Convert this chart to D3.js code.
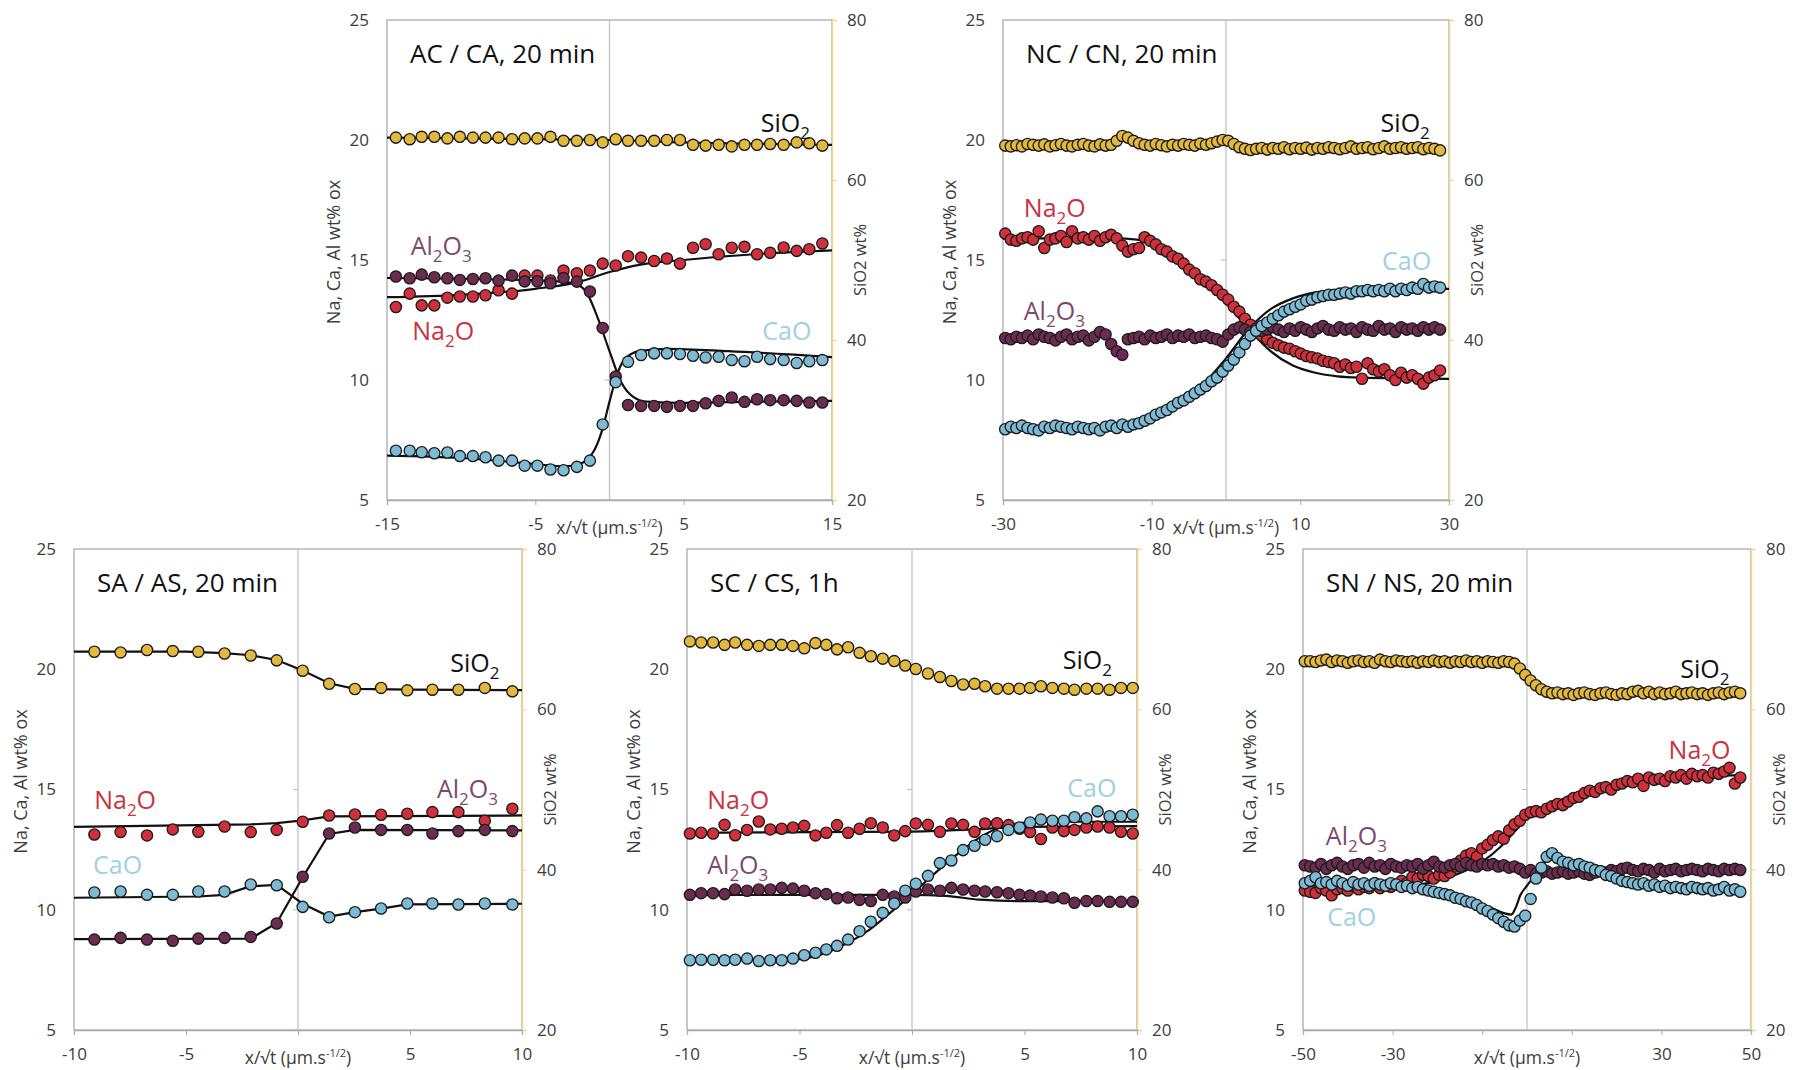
<!DOCTYPE html>
<html><head><meta charset="utf-8">
<script src="https://cdn.jsdelivr.net/npm/d3@7"></script>
<style>
body{margin:0;background:#fff;}
text{font-family:"Open Sans","DejaVu Sans",sans-serif;}
</style></head>
<body><svg id="chart" width="1800" height="1070"></svg>
<script>
// ---------------- DATA ----------------
const yTicks = [5,10,15,20,25];
const y2Ticks = [20,40,60,80];

// Panel 1: AC / CA, 20 min
const p1_xTicks = [-15,-5,5,15];
const p1_xLabels = [-15,-5,5,15];
const p1_x = [-14.4,-13.47,-12.66,-11.81,-10.93,-10.09,-9.21,-8.36,-7.48,-6.57,-5.72,-4.86,-3.98,-3.1,-2.2,-1.32,-0.46,0.42,1.25,2.13,3.01,3.87,4.75,5.63,6.48,7.36,8.24,9.1,9.95,10.83,11.74,12.62,13.47,14.35];
const p1_SiO2 = [65.3,65.1,65.4,65.4,65.2,65.4,65.3,65.3,65.3,65.1,65.2,65.2,65.4,64.9,64.9,65.0,64.7,65.1,64.9,64.9,64.9,65.0,65.0,64.4,64.3,64.4,64.2,64.4,64.4,64.5,64.4,64.7,64.6,64.3];
const p1_Na2O = [13.04,13.60,13.11,13.11,13.43,13.48,13.48,13.53,13.74,13.60,14.35,14.35,14.15,14.56,14.45,14.56,14.85,14.77,15.16,15.10,14.96,15.06,14.85,15.51,15.66,15.24,15.51,15.55,15.24,15.30,15.52,15.38,15.45,15.69];
const p1_Al2O3 = [14.31,14.24,14.39,14.28,14.24,14.17,14.21,14.24,14.14,14.35,14.11,14.11,14.03,14.25,14.10,13.69,12.17,10.15,8.96,8.92,8.92,8.88,8.92,8.92,9.03,9.13,9.27,9.09,9.20,9.16,9.16,9.13,9.06,9.06];
const p1_CaO = [7.05,7.05,6.99,6.95,6.98,6.83,6.83,6.78,6.64,6.64,6.43,6.43,6.27,6.24,6.38,6.64,8.15,9.91,10.76,11.04,11.11,11.11,11.08,11.01,10.94,10.97,10.83,10.78,10.97,10.87,10.83,10.71,10.78,10.83];
const p1_fitSiO2 = [[-15,65.3],[-5,65.1],[0,65.0],[5,64.7],[15,64.4]];
const p1_fitNa2O = [[-15,13.45],[-10,13.55],[-5,13.8],[-2,14.1],[0,14.5],[2,14.8],[5,15.0],[10,15.25],[15,15.4]];
const p1_fitAl2O3 = [[-15,14.25],[-5,14.15],[-2.5,14.05],[-1.6,13.7],[-0.8,12.6],[0,11.2],[0.8,9.9],[1.6,9.3],[2.5,9.1],[5,9.05],[10,9.1],[15,9.13]];
const p1_fitCaO = [[-15,6.85],[-10,6.75],[-5,6.5],[-3,6.4],[-2,6.5],[-1,7.1],[-0.5,7.9],[0,9.1],[0.5,10.2],[1,10.85],[2,11.2],[4,11.3],[8,11.2],[15,10.95]];

// Panel 2: NC / CN, 20 min
const p2_xTicks = [-30,-10,10,30];
const p2_xLabels = [-30,-10,10,30];
const p2_x = [-29.7,-28.95,-28.2,-27.45,-26.7,-25.95,-25.2,-24.45,-23.7,-22.95,-22.2,-21.45,-20.7,-19.95,-19.2,-18.45,-17.7,-16.95,-16.2,-15.45,-14.7,-13.95,-13.2,-12.45,-11.7,-10.95,-10.2,-9.45,-8.7,-7.95,-7.2,-6.45,-5.7,-4.95,-4.2,-3.45,-2.7,-1.95,-1.2,-0.45,0.3,1.05,1.8,2.55,3.3,4.05,4.8,5.55,6.3,7.05,7.8,8.55,9.3,10.05,10.8,11.55,12.3,13.05,13.8,14.55,15.3,16.05,16.8,17.55,18.3,19.05,19.8,20.55,21.3,22.05,22.8,23.55,24.3,25.05,25.8,26.55,27.3,28.05,28.8];
const p2_SiO2 = [64.3,64.2,64.35,64.2,64.5,64.4,64.3,64.45,64.2,64.35,64.5,64.3,64.2,64.4,64.5,64.3,64.2,64.45,64.3,64.4,64.9,65.5,65.3,64.9,64.6,64.4,64.3,64.5,64.35,64.2,64.4,64.3,64.5,64.4,64.3,64.55,64.4,64.6,64.8,65.0,64.9,64.5,64.1,63.9,63.75,63.9,64.0,63.8,64.0,63.9,64.1,63.85,64.0,63.9,64.05,63.8,64.0,63.9,64.1,64.0,63.85,64.0,64.2,63.9,64.0,64.1,63.85,64.0,64.2,63.9,64.0,64.1,63.9,64.0,64.1,63.85,64.0,63.9,63.7];
const p2_Na2O = [16.1,15.85,15.8,15.9,15.95,15.85,16.2,15.5,15.85,15.9,16.0,15.75,16.2,15.9,15.95,15.85,16.0,15.8,15.95,16.05,15.9,15.6,15.35,15.45,15.5,15.95,15.8,15.65,15.45,15.35,15.15,15.05,14.85,14.6,14.45,14.2,14.1,13.95,13.75,13.55,13.35,13.05,12.85,12.55,12.3,12.0,11.85,11.7,11.55,11.45,11.35,11.3,11.2,11.1,11.0,10.95,10.9,10.8,10.75,10.7,10.55,10.65,10.5,10.55,10.05,10.7,10.45,10.35,10.45,10.2,10.0,10.3,10.1,10.2,10.05,9.85,10.1,10.2,10.4];
const p2_Al2O3 = [11.75,11.7,11.8,11.75,11.85,11.7,11.9,11.8,11.75,11.65,11.8,11.9,11.7,11.8,11.85,11.65,11.8,12.0,11.9,11.5,11.2,11.05,11.7,11.75,11.8,11.7,11.85,11.75,11.8,11.9,11.75,11.85,11.8,11.9,11.75,11.8,11.85,11.75,11.7,11.6,11.9,12.1,12.2,12.1,12.0,12.15,12.05,12.1,12.2,12.1,12.0,12.15,12.05,12.2,12.1,12.0,12.15,12.25,12.1,12.05,12.2,12.1,12.15,12.0,12.2,12.1,12.05,12.25,12.1,12.15,12.0,12.2,12.1,12.15,12.05,12.2,12.1,12.2,12.1];
const p2_CaO = [7.95,8.05,8.0,8.1,8.0,7.95,7.9,8.05,8.0,8.1,8.05,8.0,7.95,8.05,8.0,7.95,8.0,7.9,8.05,8.1,8.0,8.15,8.05,8.15,8.2,8.3,8.4,8.55,8.65,8.75,8.9,9.05,9.15,9.3,9.45,9.6,9.75,9.95,10.1,10.35,10.6,10.85,11.15,11.5,11.85,12.05,12.25,12.4,12.55,12.7,12.85,12.95,13.05,13.15,13.3,13.35,13.45,13.5,13.55,13.55,13.6,13.65,13.6,13.7,13.7,13.75,13.7,13.75,13.7,13.8,13.7,13.8,13.75,13.85,13.8,14.0,13.85,13.9,13.85];
const p2_fitNa2O = [[-30,15.9],[-15,15.9],[-12,15.85],[-9,15.55],[-6,14.95],[-3,14.15],[0,13.2],[3,12.15],[6,11.2],[9,10.6],[12,10.3],[15,10.15],[18,10.1],[30,10.05]];
const p2_fitCaO = [[-30,8.0],[-15,8.05],[-10,8.35],[-6,9.0],[-3,9.85],[0,10.9],[3,12.1],[6,12.95],[9,13.4],[12,13.65],[15,13.75],[18,13.8],[30,13.8]];

// Panel 3: SA / AS, 20 min
const p3_xTicks = [-10,-5,0,5,10];
const p3_xLabels = [-10,-5,5,10];
const p3_x = [-9.09,-7.92,-6.74,-5.59,-4.45,-3.28,-2.11,-0.95,0.21,1.39,2.54,3.71,4.88,6.0,7.16,8.34,9.57];
const p3_SiO2 = [67.18,67.10,67.40,67.27,67.18,66.97,66.71,66.11,64.82,63.18,62.54,62.67,62.37,62.45,62.45,62.67,62.24];
const p3_Na2O = [13.13,13.23,13.09,13.34,13.24,13.46,13.23,13.32,13.66,13.92,13.96,13.95,13.99,14.06,14.06,13.70,14.20];
const p3_Al2O3 = [8.76,8.83,8.76,8.71,8.80,8.83,8.87,9.43,11.37,13.17,13.42,13.32,13.32,13.17,13.27,13.32,13.27];
const p3_CaO = [10.72,10.76,10.62,10.62,10.76,10.76,11.05,11.02,10.12,9.69,9.90,10.05,10.26,10.26,10.22,10.26,10.22];
const p3_fitSiO2 = [[-10,67.2],[-5,67.2],[-3.3,67.0],[-2.1,66.75],[-0.95,66.15],[0.21,64.85],[1.39,63.25],[2.54,62.55],[5,62.45],[10,62.4]];
const p3_fitNa2O = [[-10,13.45],[-2.1,13.55],[-0.95,13.6],[0.21,13.72],[1.39,13.88],[10,13.92]];
const p3_fitAl2O3 = [[-10,8.78],[-2.11,8.8],[-0.95,9.45],[0.21,11.35],[1.39,13.15],[2.54,13.32],[10,13.3]];
const p3_fitCaO = [[-10,10.5],[-4.45,10.55],[-3.28,10.62],[-2.11,10.98],[-0.95,11.03],[0.21,10.25],[1.39,9.72],[2.54,9.9],[3.71,10.05],[4.88,10.22],[10,10.25]];

// Panel 4: SC / CS, 1h
const p4_xTicks = [-10,-5,0,5,10];
const p4_xLabels = [-10,-5,5,10];
const p4_x = [-9.87,-9.37,-8.84,-8.33,-7.86,-7.33,-6.81,-6.30,-5.79,-5.29,-4.79,-4.29,-3.81,-3.33,-2.84,-2.33,-1.83,-1.30,-0.79,-0.30,0.17,0.71,1.24,1.75,2.27,2.78,3.25,3.78,4.29,4.78,5.25,5.73,6.24,6.75,7.22,7.75,8.25,8.78,9.29,9.81];
const p4_SiO2 = [68.47,68.34,68.34,68.04,68.34,68.04,67.91,68.04,68.04,67.91,67.61,68.26,68.04,67.48,67.74,67.05,66.62,66.32,66.02,65.46,65.03,64.47,64.04,63.53,63.10,63.18,62.88,62.58,62.58,62.58,62.67,62.88,62.67,62.58,62.45,62.58,62.58,62.45,62.67,62.67];
const p4_Na2O = [13.17,13.20,13.17,13.53,13.10,13.32,13.67,13.34,13.37,13.42,13.49,13.09,13.20,13.52,13.20,13.37,13.60,13.42,13.09,13.27,13.59,13.53,13.24,13.59,13.53,13.24,13.59,13.60,13.52,13.37,13.23,12.94,13.42,13.27,13.32,13.42,13.46,13.42,13.24,13.17];
const p4_Al2O3 = [10.62,10.69,10.69,10.65,10.84,10.79,10.84,10.84,10.91,10.88,10.79,10.69,10.65,10.48,10.51,10.41,10.36,10.62,10.55,10.51,10.76,10.84,10.79,10.91,10.84,10.79,10.76,10.73,10.69,10.62,10.59,10.55,10.51,10.48,10.29,10.36,10.36,10.33,10.33,10.33];
const p4_CaO = [7.90,7.92,7.92,7.90,7.92,7.97,7.87,7.90,7.90,7.97,8.11,8.21,8.35,8.50,8.76,9.11,9.50,9.87,10.26,10.79,11.08,11.41,11.94,12.05,12.48,12.66,12.91,13.06,13.32,13.42,13.63,13.75,13.70,13.70,13.85,13.80,14.09,13.89,13.89,13.95];
const p4_fitNa2O = [[-10,13.2],[0,13.25],[3,13.35],[5,13.45],[10,13.48]];
const p4_fitAl2O3 = [[-10,10.62],[0,10.62],[1.5,10.58],[3,10.42],[5,10.36],[10,10.36]];
const p4_fitCaO = [[-10,7.9],[-5,7.95],[-4,8.15],[-3,8.55],[-2,9.1],[-1,9.85],[0,10.65],[1,11.5],[2,12.3],[3,13.0],[4,13.45],[5,13.62],[6,13.66],[10,13.66]];

// Panel 5: SN / NS, 20 min
const p5_xTicks = [-50,-30,-10,10,30,50];
const p5_xLabels = [-50,-30,30,50];
const p5_x = [-49.6,-48.4,-47.2,-46.0,-44.8,-43.6,-42.4,-41.2,-40.0,-38.8,-37.6,-36.4,-35.2,-34.0,-32.8,-31.6,-30.4,-29.2,-28.0,-26.8,-25.6,-24.4,-23.2,-22.0,-20.8,-19.6,-18.4,-17.2,-16.0,-14.8,-13.6,-12.4,-11.2,-10.0,-8.8,-7.6,-6.4,-5.2,-4.0,-2.8,-1.6,-0.4,0.8,2.0,3.2,4.4,5.6,6.8,8.0,9.2,10.4,11.6,12.8,14.0,15.2,16.4,17.6,18.8,20.0,21.2,22.4,23.6,24.8,26.0,27.2,28.4,29.6,30.8,32.0,33.2,34.4,35.6,36.8,38.0,39.2,40.4,41.6,42.8,44.0,45.2,46.4,47.6];
const p5_SiO2 = [66.0,66.0,65.9,66.1,66.2,65.9,66.1,66.0,65.8,66.0,66.1,65.9,66.0,65.8,66.2,66.0,65.9,66.1,66.0,65.9,66.0,65.8,66.0,65.9,66.1,65.9,66.0,65.8,66.0,65.9,66.1,65.9,66.0,65.8,66.0,65.9,65.8,66.0,65.9,65.7,65.1,64.3,63.6,63.0,62.5,62.2,62.0,62.1,61.9,62.0,61.8,62.0,62.1,61.9,61.8,62.0,62.1,61.9,61.8,62.0,61.9,62.2,62.3,62.0,62.2,61.9,62.1,61.9,62.0,62.2,61.9,62.0,62.1,61.9,62.0,61.8,62.0,62.1,61.9,62.1,62.2,62.0];
const p5_Na2O = [10.8,10.75,10.7,10.9,10.8,10.6,10.85,10.9,10.8,11.0,10.85,10.95,10.9,11.1,10.9,11.0,10.95,11.05,11.2,11.1,11.35,11.3,11.45,11.4,11.3,11.45,11.4,11.55,11.8,12.05,12.25,12.35,12.2,12.55,12.7,12.9,13.05,12.95,13.3,13.55,13.7,13.95,14.05,14.1,14.05,14.2,14.3,14.4,14.35,14.5,14.65,14.7,14.85,14.95,14.9,15.05,15.1,15.0,15.2,15.25,15.35,15.3,15.45,15.15,15.5,15.4,15.45,15.35,15.55,15.5,15.6,15.45,15.65,15.55,15.6,15.5,15.7,15.65,15.75,15.9,15.25,15.5];
const p5_Al2O3 = [11.85,11.8,11.75,11.9,11.7,11.85,11.95,11.8,11.7,11.85,11.9,11.75,11.95,11.8,11.85,11.7,11.9,11.8,11.75,11.85,11.8,11.9,11.7,11.85,12.0,11.8,11.75,11.85,11.9,11.8,11.95,11.85,11.8,11.9,11.85,11.9,11.8,11.85,11.75,11.8,11.7,11.55,11.65,11.5,11.55,11.6,11.5,11.55,11.6,11.5,11.55,11.6,11.5,11.45,11.55,11.6,11.55,11.65,11.6,11.7,11.75,11.65,11.6,11.7,11.65,11.55,11.7,11.6,11.65,11.7,11.6,11.65,11.7,11.65,11.6,11.7,11.65,11.6,11.7,11.65,11.7,11.65];
const p5_CaO = [11.1,11.2,11.35,11.1,11.15,11.05,11.2,11.1,11.0,11.15,11.05,11.1,11.0,11.1,11.05,11.0,11.1,11.05,10.95,11.0,10.9,10.95,10.85,10.8,10.75,10.7,10.65,10.6,10.5,10.45,10.35,10.3,10.2,10.05,9.95,9.8,9.65,9.5,9.35,9.3,9.55,9.75,10.45,11.3,11.75,12.2,12.35,12.15,12.0,11.95,11.85,11.9,11.8,11.75,11.65,11.6,11.45,11.4,11.3,11.2,11.15,11.1,11.05,11.1,11.0,11.05,10.95,11.0,10.9,10.95,10.9,10.85,10.95,10.9,10.85,10.9,10.8,10.85,10.95,10.8,10.85,10.75];
const p5_fitNa2O = [[-50,10.9],[-30,10.95],[-20,11.2],[-14,11.6],[-10,12.0],[-6,12.6],[-3,13.2],[0,13.8],[3,14.2],[8,14.6],[15,15.0],[25,15.3],[35,15.5],[48,15.6]];
const p5_fitCaO = [[-50,11.0],[-30,10.95],[-20,10.7],[-14,10.45],[-10,10.2],[-7,10.0],[-5,9.85],[-3.5,9.8],[-2.5,10.1],[-1.5,10.6],[0,11.0],[2,11.5],[4,12.0],[6,12.1],[10,11.9],[16,11.6],[22,11.15],[30,11.0],[48,10.85]];

// ---------------- STYLE / LAYOUT ----------------
const COL = {
  SiO2:{fill:"#E2B93E", text:"#111111"},
  Na2O:{fill:"#D12F3B", text:"#C9333F"},
  Al2O3:{fill:"#6B2C4F", text:"#7C4A6D"},
  CaO:{fill:"#7DBBD5", text:"#9FD1E0"}
};
const LABEL_PARTS = {
  SiO2:[["SiO",0],["2",1]],
  Na2O:[["Na",0],["2",1],["O",0]],
  Al2O3:[["Al",0],["2",1],["O",0],["3",1]],
  CaO:[["CaO",0]]
};

const panels = [
  {title:"AC / CA, 20 min", left:387, top:20, w:445, h:480, xDom:[-15,15], xTicks:p1_xTicks, xLabels:p1_xLabels, x:p1_x,
   series:{SiO2:p1_SiO2, Na2O:p1_Na2O, Al2O3:p1_Al2O3, CaO:p1_CaO},
   fits:{SiO2:p1_fitSiO2, Na2O:p1_fitNa2O, Al2O3:p1_fitAl2O3, CaO:p1_fitCaO}, curve:"smooth",
   labels:{SiO2:[10.2,20.35], Al2O3:[-13.4,15.2], Na2O:[-13.3,11.65], CaO:[10.3,11.65]}},
  {title:"NC / CN, 20 min", left:1003, top:20, w:446, h:480, xDom:[-30,30], xTicks:p2_xTicks, xLabels:p2_xLabels, x:p2_x,
   series:{SiO2:p2_SiO2, Na2O:p2_Na2O, Al2O3:p2_Al2O3, CaO:p2_CaO},
   fits:{Na2O:p2_fitNa2O, CaO:p2_fitCaO}, curve:"smooth",
   labels:{SiO2:[20.8,20.35], Na2O:[-27.2,16.8], CaO:[21.0,14.6], Al2O3:[-27.2,12.5]}},
  {title:"SA / AS,  20 min", left:74, top:549, w:448, h:481, xDom:[-10,10], xTicks:p3_xTicks, xLabels:p3_xLabels, x:p3_x,
   series:{SiO2:p3_SiO2, Na2O:p3_Na2O, Al2O3:p3_Al2O3, CaO:p3_CaO},
   fits:{SiO2:p3_fitSiO2, Na2O:p3_fitNa2O, Al2O3:p3_fitAl2O3, CaO:p3_fitCaO}, curve:"linear",
   labels:{SiO2:[6.8,19.87], Na2O:[-9.1,14.2], Al2O3:[6.2,14.63], CaO:[-9.15,11.48]}},
  {title:"SC / CS, 1h", left:687, top:549, w:450, h:481, xDom:[-10,10], xTicks:p4_xTicks, xLabels:p4_xLabels, x:p4_x,
   series:{SiO2:p4_SiO2, Na2O:p4_Na2O, Al2O3:p4_Al2O3, CaO:p4_CaO},
   fits:{Na2O:p4_fitNa2O, Al2O3:p4_fitAl2O3, CaO:p4_fitCaO}, curve:"smooth",
   labels:{SiO2:[6.7,20.0], Na2O:[-9.1,14.2], CaO:[6.9,14.7], Al2O3:[-9.1,11.48]}},
  {title:"SN / NS, 20 min", left:1303, top:549, w:448, h:481, xDom:[-50,50], xTicks:p5_xTicks, xLabels:p5_xLabels, x:p5_x,
   series:{SiO2:p5_SiO2, Na2O:p5_Na2O, Al2O3:p5_Al2O3, CaO:p5_CaO},
   fits:{Na2O:p5_fitNa2O, CaO:p5_fitCaO}, curve:"smooth",
   labels:{SiO2:[34.2,19.65], Na2O:[31.6,16.28], Al2O3:[-44.9,12.7], CaO:[-44.6,9.33]}}
];

const svg = d3.select("#chart");
svg.append("rect").attr("width",1800).attr("height",1070).attr("fill","#fff");

function chemLabel(g, key, px, py, size) {
  const t = g.append("text").attr("x",px).attr("y",py)
    .attr("font-size",size).attr("fill",COL[key].text);
  let shifted = false;
  LABEL_PARTS[key].forEach(([s,sub])=>{
    const ts = t.append("tspan").text(s);
    if (sub && !shifted) { ts.attr("dy", size*0.28).attr("font-size", size*0.68); shifted = true; }
    else if (sub && shifted) { ts.attr("font-size", size*0.68); }
    else if (!sub && shifted) { ts.attr("dy", -size*0.28); shifted = false; }
  });
}

const AXC = "#3c3c3c";
panels.forEach(p => {
  const g = svg.append("g");
  const x = d3.scaleLinear().domain(p.xDom).range([p.left, p.left + p.w]);
  const y = d3.scaleLinear().domain([5,25]).range([p.top + p.h, p.top]);
  const y2 = d3.scaleLinear().domain([20,80]).range([p.top + p.h, p.top]);
  const bottom = p.top + p.h, right = p.left + p.w;

  // plot border
  g.append("rect").attr("x",p.left).attr("y",p.top).attr("width",p.w).attr("height",p.h)
    .attr("fill","none").attr("stroke","#ABABAB").attr("stroke-width",1.3);

  // zero line (primary vertical axis crossing at 0)
  g.append("line").attr("x1",x(0)).attr("x2",x(0)).attr("y1",p.top).attr("y2",bottom)
    .attr("stroke","#C4C4C4").attr("stroke-width",1.3);
  g.selectAll(".zt").data(yTicks).enter().append("line")
    .attr("x1",x(0)-5).attr("x2",x(0)).attr("y1",d=>y(d)).attr("y2",d=>y(d))
    .attr("stroke","#C4C4C4").attr("stroke-width",1.2);

  // left axis labels
  const la = g.append("g").attr("transform",`translate(${p.left},0)`)
    .call(d3.axisLeft(y).tickValues(yTicks).tickSize(0).tickPadding(18).tickFormat(d3.format("d")));
  la.select(".domain").remove();
  la.selectAll("text").attr("font-size",17).attr("fill",AXC).attr("font-family","Open Sans");

  // right (secondary) axis
  const ra = g.append("g").attr("transform",`translate(${right},0)`)
    .call(d3.axisRight(y2).tickValues(y2Ticks).tickSize(5).tickPadding(10).tickFormat(d3.format("d")));
  ra.select(".domain").attr("stroke","#F3D78A").attr("stroke-width",1.5);
  ra.selectAll(".tick line").attr("stroke","#F3D78A");
  ra.selectAll("text").attr("font-size",17).attr("fill",AXC).attr("font-family","Open Sans");

  // bottom axis
  const ba = g.append("g").attr("transform",`translate(0,${bottom})`)
    .call(d3.axisBottom(x).tickValues(p.xTicks).tickSize(5).tickPadding(13)
      .tickFormat(d => p.xLabels.includes(d) ? String(d) : ""));
  ba.select(".domain").attr("stroke","#ABABAB").attr("stroke-width",1.3);
  ba.selectAll(".tick line").attr("stroke","#ABABAB");
  ba.selectAll("text").attr("font-size",17).attr("fill",AXC).attr("font-family","Open Sans");

  // x axis title
  const xt = g.append("text").attr("x",x(0)).attr("y",bottom+34).attr("text-anchor","middle")
    .attr("font-size",17.5).attr("fill",AXC);
  xt.append("tspan").text("x/\u221At (\u00B5m.s");
  xt.append("tspan").text("-1/2").attr("font-size",11).attr("dy",-7);
  xt.append("tspan").text(")").attr("dy",7);

  // y axis titles
  const cy = p.top + p.h/2;
  g.append("text").attr("transform",`translate(${p.left-47},${cy-8}) rotate(-90)`)
    .attr("text-anchor","middle").attr("font-size",18).attr("fill",AXC).text("Na, Ca, Al wt% ox");
  g.append("text").attr("transform",`translate(${right+34},${cy}) rotate(-90)`)
    .attr("text-anchor","middle").attr("font-size",16.5).attr("fill",AXC).text("SiO2 wt%");

  // title
  g.append("text").attr("x",p.left+23).attr("y",p.top+43).attr("font-size",26).attr("fill","#111").text(p.title);

  // fitted curves (drawn beneath the markers)
  Object.keys(p.fits).forEach(k => {
    const ys = k === "SiO2" ? y2 : y;
    const line = d3.line().x(d=>x(d[0])).y(d=>ys(d[1]))
      .curve(p.curve === "linear" ? d3.curveLinear : d3.curveMonotoneX);
    g.append("path").attr("d",line(p.fits[k])).attr("fill","none")
      .attr("stroke","#111").attr("stroke-width",2.2);
  });

  // markers
  const order = ["SiO2","Na2O","Al2O3","CaO"];
  order.forEach(k => {
    const vals = p.series[k];
    const ys = k === "SiO2" ? y2 : y;
    g.append("g").selectAll("circle").data(vals).enter().append("circle")
      .attr("cx",(d,i)=>x(p.x[i])).attr("cy",d=>ys(d)).attr("r",5.6)
      .attr("fill",COL[k].fill).attr("stroke","#1c1c1c").attr("stroke-width",1.35);
  });

  // series labels
  Object.keys(p.labels).forEach(k => {
    const [lx,ly] = p.labels[k];
    chemLabel(g, k, x(lx), y(ly), 25);
  });
});
</script>
</body></html>
